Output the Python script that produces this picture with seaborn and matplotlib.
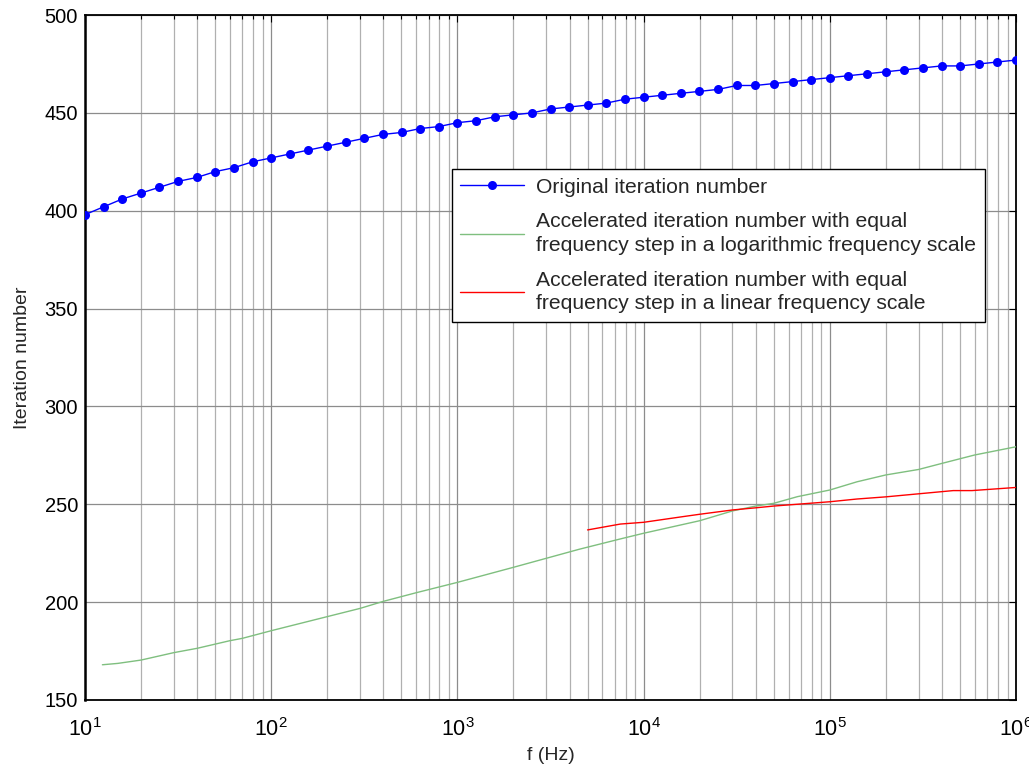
import numpy as np
import pandas as pd
import matplotlib
matplotlib.use("Agg")
import matplotlib.pyplot as plt
import matplotlib.ticker as mticker
import seaborn as sns

# Original solver: one point every 1/10 decade from 10 Hz to 1 MHz
freq_orig = np.logspace(1, 6, 51)
iter_orig = [398, 402, 406, 409, 412, 415, 417, 420, 422, 425,
             427, 429, 431, 433, 435, 437, 439, 440, 442, 443,
             445, 446, 448, 449, 450, 452, 453, 454, 455, 457,
             458, 459, 460, 461, 462, 464, 464, 465, 466, 467,
             468, 469, 470, 471, 472, 473, 474, 474, 475, 476, 477]

# Accelerated solver, equal step in log frequency
freq_log = [12.4, 15, 20, 30, 40, 60, 70, 100, 200, 300, 400, 600,
            1e3, 2e3, 4.5e3, 7.5e3, 1e4, 2e4, 3e4, 4e4, 5e4, 6.7e4, 1e5,
            1.4e5, 2e5, 3e5, 4e5, 6e5, 1e6]
iter_log = [168, 168.7, 170.4, 174.2, 176.4, 180.3, 181.5, 185.4, 192.6,
            196.8, 200.4, 204.8, 210.1, 217.8, 227.0, 232.3, 235.2, 241.6,
            246.6, 249.1, 250.5, 253.9, 257.3, 261.5, 265.0, 267.8, 270.9,
            275.2, 279.4]

# Accelerated solver, equal step in linear frequency
freq_lin = [5e3, 7.5e3, 1e4, 1.6e4, 2e4, 3e4, 4e4, 5e4, 1e5, 1.4e5, 2e5,
            4.6e5, 5.8e5, 1e6]
iter_lin = [236.9, 239.9, 240.8, 243.6, 244.9, 247.1, 248.2, 249.1, 251.3,
            252.7, 253.8, 257.0, 257.0, 258.6]

labels = ["Original iteration number",
          "Accelerated iteration number with equal\nfrequency step in a logarithmic frequency scale",
          "Accelerated iteration number with equal\nfrequency step in a linear frequency scale"]

df = pd.concat([
    pd.DataFrame({"f": freq_orig, "n": iter_orig, "series": labels[0]}),
    pd.DataFrame({"f": freq_log, "n": iter_log, "series": labels[1]}),
    pd.DataFrame({"f": freq_lin, "n": iter_lin, "series": labels[2]}),
], ignore_index=True)

sns.set_style("white")
plt.rcParams["font.family"] = ["Liberation Sans", "DejaVu Sans"]
plt.rcParams["mathtext.fontset"] = "custom"
plt.rcParams["mathtext.rm"] = "Liberation Sans"
plt.rcParams["mathtext.it"] = "Liberation Sans"
plt.rcParams["mathtext.default"] = "regular"

fig = plt.figure(figsize=(10.29, 7.71), dpi=100)
ax = fig.add_axes([0.0826, 0.0921, 0.9048, 0.8884])

colors = {labels[0]: "#0000ff", labels[1]: "#7fbf7f", labels[2]: "#ff0000"}
sns.lineplot(data=df[df.series == labels[0]], x="f", y="n", ax=ax,
             color=colors[labels[0]], marker="o", markersize=6.5,
             markeredgewidth=0, linewidth=1.0, sort=False, estimator=None,
             label=labels[0], zorder=5)
sns.lineplot(data=df[df.series == labels[1]], x="f", y="n", ax=ax,
             color=colors[labels[1]], linewidth=1.0, sort=False,
             estimator=None, label=labels[1], zorder=4)
sns.lineplot(data=df[df.series == labels[2]], x="f", y="n", ax=ax,
             color=colors[labels[2]], linewidth=1.0, sort=False,
             estimator=None, label=labels[2], zorder=4)

ax.set_xscale("log")
ax.set_xlim(10, 1e6)
ax.set_ylim(150, 500)
ax.yaxis.set_major_locator(mticker.MultipleLocator(50))
ax.xaxis.set_major_locator(mticker.LogLocator(base=10, numticks=10))
ax.xaxis.set_minor_locator(mticker.LogLocator(base=10, subs=np.arange(2, 10), numticks=100))
ax.xaxis.set_minor_formatter(mticker.NullFormatter())

ax.grid(True, which="major", axis="both", color="#8c8c8c", linewidth=0.9)
ax.grid(True, which="minor", axis="x", color="#b0b0b0", linewidth=0.9)
ax.set_axisbelow(True)

for side in ["left", "bottom", "right", "top"]:
    ax.spines[side].set_visible(True)
    ax.spines[side].set_color("black")
    ax.spines[side].set_linewidth(1.3)
ax.spines["left"].set_linewidth(1.8)

ax.tick_params(axis="both", which="both", direction="in", top=True, right=True,
               colors="black")
ax.tick_params(which="major", length=5, width=0.8)
ax.tick_params(which="minor", length=3, width=0.8)
ax.tick_params(axis="y", labelsize=14.5, pad=5)
ax.tick_params(axis="x", labelsize=15.5, pad=13)

ax.set_xlabel("f (Hz)", fontsize=14, labelpad=4)
ax.set_ylabel("Iteration number", fontsize=14, labelpad=10)

leg = ax.legend(loc="upper left", bbox_to_anchor=(0.394, 0.775), fontsize=15.2,
                frameon=True, fancybox=False, framealpha=1, edgecolor="black",
                handlelength=3.0, borderpad=0.4, labelspacing=0.75,
                handletextpad=0.6, borderaxespad=0)
leg.get_frame().set_linewidth(1.0)
for t in leg.get_texts():
    t.set_linespacing(1.3)

fig.savefig("out.png", dpi=100)
